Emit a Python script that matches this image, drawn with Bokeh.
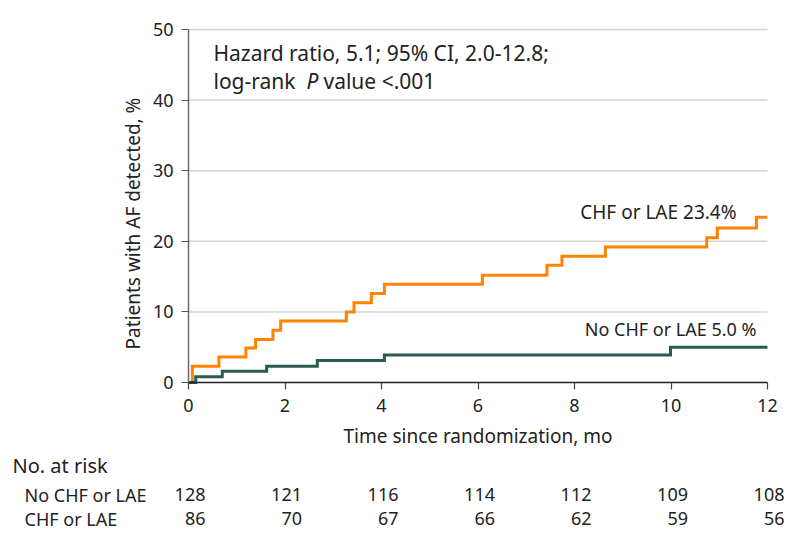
from math import pi
from bokeh.plotting import figure
from bokeh.models import Range1d, FixedTicker, LinearAxis
from bokeh.core.properties import value
from bokeh.embed import file_html
from bokeh.resources import INLINE

# ---------------- data ----------------
months_ticks = [0, 2, 4, 6, 8, 10, 12]
pct_ticks = [0, 10, 20, 30, 40, 50]
grid_pct = [10, 20, 30, 40, 50]

chf_t = [0, 0.08, 0.63, 1.19, 1.39, 1.75, 1.91, 3.27, 3.43, 3.79, 4.06, 6.09, 7.43, 7.74, 8.64, 10.74, 10.96, 11.77, 12]
chf_y = [0, 2.3, 3.6, 4.9, 6.1, 7.4, 8.7, 10.0, 11.3, 12.6, 13.9, 15.2, 16.6, 17.9, 19.2, 20.5, 21.9, 23.4, 23.4]

nochf_t = [0, 0.15, 0.70, 1.62, 2.67, 4.06, 9.99, 12]
nochf_y = [0, 0.8, 1.6, 2.3, 3.1, 3.9, 5.0, 5.0]

risk_times = [0, 2, 4, 6, 8, 10, 12]
risk_nochf = [128, 121, 116, 114, 112, 109, 108]
risk_chf = [86, 70, 67, 66, 62, 59, 56]

row_labels = ["No CHF or LAE", "CHF or LAE"]
risk_header = "No. at risk"
label_chf = "CHF or LAE 23.4%"
label_nochf = "No CHF or LAE 5.0 %"
hr_line1 = "Hazard ratio, 5.1; 95% CI, 2.0-12.8;"
x_title = "Time since randomization, mo"
y_title = "Patients with AF detected, %"

# ---------------- layout / style ----------------
FONT = "Noto Sans"
TXT = "#222222"
ORANGE = "#FF8200"
GREEN = "#2B5A55"

W, H = 790, 539
X0_PX, X12_PX = 188, 767      # pixel of month 0 / month 12
Y0_PX, Y50_PX = 382, 29       # pixel of 0 % / 50 %
PPM = (X12_PX - X0_PX) / 12.0
PPY = (Y0_PX - Y50_PX) / 50.0


def xd(px):
    """canvas pixel column -> month"""
    return (px - X0_PX) / PPM


def yd(py):
    """canvas pixel row -> percent"""
    return (Y0_PX - py) / PPY


p = figure(width=W, height=H, x_range=Range1d(xd(0), xd(W)), y_range=Range1d(yd(H), yd(0)),
           x_axis_location=None, y_axis_location=None,
           output_backend="svg", toolbar_location=None,
           min_border_left=0, min_border_right=0, min_border_top=0, min_border_bottom=0)
p.outline_line_color = None
p.background_fill_color = "white"
p.border_fill_color = "white"
p.grid.grid_line_color = None

# horizontal gridlines across the data area only
p.segment(x0=[0] * len(grid_pct), x1=[12] * len(grid_pct), y0=grid_pct, y1=grid_pct,
          line_color="#d4d4d4", line_width=1.5)

xaxis = LinearAxis(ticker=FixedTicker(ticks=months_ticks), fixed_location=0, bounds=(0, 12))
yaxis = LinearAxis(ticker=FixedTicker(ticks=pct_ticks), fixed_location=0, bounds=(0, 50))
for ax in (xaxis, yaxis):
    ax.major_label_text_font = FONT
    ax.major_label_text_font_size = "18px"
    ax.major_label_text_color = TXT
    ax.major_tick_out = 7
    ax.major_tick_in = 0
    ax.minor_tick_out = 0
    ax.minor_tick_in = 0
    ax.major_tick_line_width = 1.2
    ax.axis_line_width = 1.5
xaxis.axis_line_color = "#222222"
xaxis.major_tick_line_color = "#444444"
yaxis.axis_line_color = "#6a6a6a"
yaxis.major_tick_line_color = "#555555"
xaxis.major_label_standoff = 9
yaxis.major_label_standoff = 8
p.add_layout(yaxis, "left")
p.add_layout(xaxis, "below")

# curves
p.step(chf_t, chf_y, mode="after", line_width=3, line_color=ORANGE, line_join="miter")
p.step(nochf_t, nochf_y, mode="after", line_width=3, line_color=GREEN, line_join="miter")


def txt(x, y, s, size, align="left", style="normal", angle=0, dx=0):
    p.text(x=x, y=y, text=s, x_offset=dx, angle=angle, text_align=align, text_baseline="middle",
           text_font=value(FONT), text_font_size=size, text_font_style=style, text_color=TXT)


# axis titles
txt([xd(477.5)], [yd(435)], [x_title], "19px", align="center")
txt([xd(132)], [yd(223)], [y_title], "19px", align="center", angle=pi / 2)

# curve labels
txt([xd(736)], [yd(211)], [label_chf], "19px", align="right")
txt([xd(756)], [yd(328)], [label_nochf], "18px", align="right")

# hazard ratio annotation
hx = xd(213)
txt([hx], [yd(52)], [hr_line1], "21px")
txt([hx], [yd(80)], ["log-rank"], "21px")
txt([hx], [yd(80)], ["P"], "21px", style="italic", dx=93)
txt([hx], [yd(80)], ["value <.001"], "21px", dx=110)

# risk table
Y_ROW1, Y_ROW2 = yd(494), yd(518)
txt([xd(12)], [yd(465)], [risk_header], "20px")
txt([xd(24), xd(24)], [Y_ROW1, Y_ROW2], row_labels, "18px")
txt(risk_times + risk_times, [Y_ROW1] * len(risk_times) + [Y_ROW2] * len(risk_times),
    [str(v) for v in risk_nochf + risk_chf], "18px", align="right", dx=17)

open("out.html", "w").write(file_html(p, INLINE))
